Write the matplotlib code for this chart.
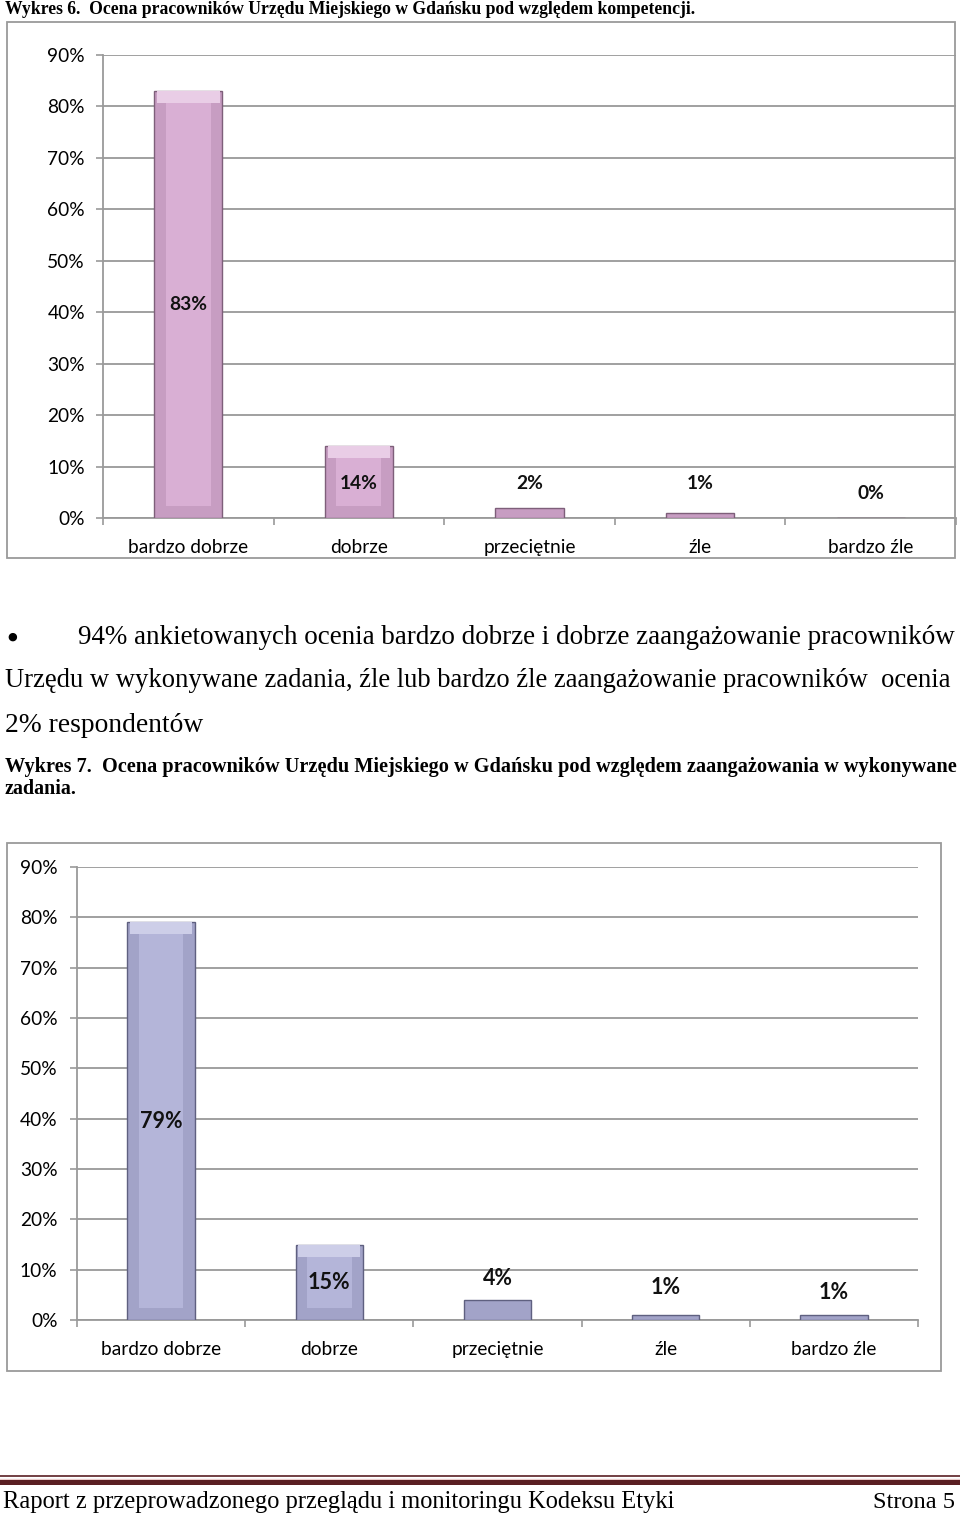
import matplotlib
matplotlib.use("Agg")
import matplotlib.pyplot as plt
from matplotlib.patches import Rectangle
from matplotlib.lines import Line2D
import numpy as np

# Data
categories = ["bardzo dobrze", "dobrze", "przeciętnie", "źle", "bardzo źle"]
ticks_pct = [0, 10, 20, 30, 40, 50, 60, 70, 80, 90]

kompetencje = [83, 14, 2, 1, 0]
kompetencje_lbl = ["83%", "14%", "2%", "1%", "0%"]
zaangazowanie = [79, 15, 4, 1, 1]
zaangazowanie_lbl = ["79%", "15%", "4%", "1%", "1%"]

# label heights (in % units) as placed in the original
kompetencje_lbl_y = [41.5, 6.8, 6.8, 6.8, 4.7]
zaangazowanie_lbl_y = [39.5, 7.4, 8.2, 6.4, 5.4]

title6 = "Wykres 6.  Ocena pracowników Urzędu Miejskiego w Gdańsku pod względem kompetencji."
title7a = "Wykres 7.  Ocena pracowników Urzędu Miejskiego w Gdańsku pod względem zaangażowania w wykonywane"
title7b = "zadania."
para = ["94% ankietowanych ocenia bardzo dobrze i dobrze zaangażowanie pracowników",
        "Urzędu w wykonywane zadania, źle lub bardzo źle zaangażowanie pracowników  ocenia",
        "2% respondentów"]
footer_l = "Raport z przeprowadzonego przeglądu i monitoringu Kodeksu Etyki"
footer_r = "Strona 5"

W, H = 960, 1519
fig = plt.figure(figsize=(W / 100, H / 100), dpi=100)
fig.patch.set_facecolor("white")
renderer = fig.canvas.get_renderer()

SANS = ["Lato", "DejaVu Sans"]
SERIF = ["Liberation Serif", "DejaVu Serif"]


def fx(x):
    return x / W


def fy(y):
    return 1 - y / H


def fit_text(x, y, s, target_w, size, ha="left", **kw):
    t = fig.text(fx(x), fy(y), s, ha=ha, va="center", fontsize=size, **kw)
    bb = t.get_window_extent(renderer)
    t.set_fontsize(size * target_w / bb.width)
    return t


def frame(x0, y0, x1, y1):
    fig.patches.append(Rectangle((fx(x0), fy(y1)), fx(x1 - x0), (y1 - y0) / H,
                                 transform=fig.transFigure, fill=False,
                                 edgecolor="#9a9a9a", lw=1.3, zorder=0))


def bar_chart(rect, values, labels, lbl_y, face, side, top, edge, lblsize, ypad):
    ax = fig.add_axes(rect)
    x = np.arange(len(categories))
    w = 0.4
    big = [v > 5 for v in values]
    # outer bevel
    ax.bar(x, values, width=w, color=side, edgecolor=edge, lw=1.0, zorder=3)
    # light top bevel
    ax.bar(x, [2.4 if b else 0 for b in big], bottom=[v - 2.4 for v in values],
           width=w * 0.92, color=top, lw=0, zorder=4)
    # inner face
    inner_h = [v - 4.8 if b else 0 for v, b in zip(values, big)]
    ax.bar(x, inner_h, width=w * 0.66, bottom=[2.4 if b else 0 for b in big],
           color=face, lw=0, zorder=5)
    for xi, yl, s in zip(x, lbl_y, labels):
        ax.text(xi, yl, s, ha="center", va="center", fontsize=lblsize,
                fontweight="bold", family=SANS, color="#111111", zorder=6)
    ax.set_xlim(-0.5, len(categories) - 0.5)
    ax.set_ylim(0, 90)
    ax.set_yticks(ticks_pct)
    ax.set_yticklabels([f"{t}%" for t in ticks_pct], family=SANS, fontsize=13.8)
    ax.set_xticks(x)
    ax.set_xticklabels(categories, family=SANS, fontsize=13.8)
    ax.set_xticks(np.arange(len(categories) + 1) - 0.5, minor=True)
    ax.tick_params(axis="x", which="major", length=0, pad=15)
    ax.tick_params(axis="x", which="minor", length=5, color="#9a9a9a", width=1.2)
    ax.tick_params(axis="y", length=5, color="#9a9a9a", width=1.2, pad=ypad)
    ax.yaxis.grid(True, color="#a0a0a0", lw=1.4, zorder=0)
    ax.set_axisbelow(True)
    for sp in ["top", "right"]:
        ax.spines[sp].set_visible(False)
    for sp in ["left", "bottom"]:
        ax.spines[sp].set_color("#9a9a9a")
        ax.spines[sp].set_linewidth(1.3)
    ax.patch.set_alpha(0)
    return ax


# Chart 1
fit_text(5, 9, title6, 686, 13, fontweight="bold", family=SERIF)
frame(7, 22, 955, 558)
bar_chart([fx(103), fy(518), 853 / W, 463 / H], kompetencje, kompetencje_lbl,
          kompetencje_lbl_y, "#D9AFD4", "#C79DC2", "#E9CDE6", "#7E5F7A", 13.8, 8)

# Paragraph
fig.text(fx(12), fy(637), "\u25cf", ha="center", va="center", fontsize=8, family=["DejaVu Sans"])
fit_text(78, 637, para[0], 877, 16, family=SERIF)
fit_text(5, 681, para[1], 950, 16, family=SERIF)
fit_text(5, 725, para[2], 198, 16, family=SERIF)

# Chart 2
fit_text(5, 767, title7a, 944, 12, fontweight="bold", family=SERIF)
fit_text(5, 789, title7b, 71, 12, fontweight="bold", family=SERIF)
frame(7, 843, 941, 1371)
bar_chart([fx(77), fy(1320), 841 / W, 453 / H], zaangazowanie, zaangazowanie_lbl,
          zaangazowanie_lbl_y, "#B4B5D9", "#A2A3C8", "#CDCEE8", "#5F6080", 15.5, 9)

# Footer
fig.lines.append(Line2D([0, 1], [fy(1476), fy(1476)], transform=fig.transFigure,
                        color="#5a1f22", lw=1.2))
fig.lines.append(Line2D([0, 1], [fy(1478.5), fy(1478.5)], transform=fig.transFigure,
                        color="#e8c8c8", lw=1.0))
fig.lines.append(Line2D([0, 1], [fy(1481.5), fy(1481.5)], transform=fig.transFigure,
                        color="#5a1f22", lw=3.6))
fit_text(3, 1502, footer_l, 672, 16, family=SERIF)
fit_text(955, 1502, footer_r, 82, 16, ha="right", family=SERIF)

fig.savefig("out.png", dpi=100, facecolor="white")
